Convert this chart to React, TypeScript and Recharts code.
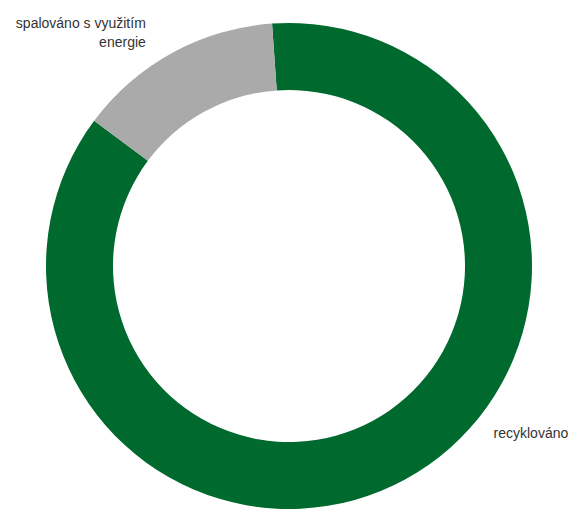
import { PieChart, Pie, Cell } from "recharts";

const categories = ["recyklováno", "spalováno s využitím energie"];
const values = [86.3, 13.7];
const colors = ["#006a2e", "#aaaaaa"];
// label text lines, split as in the reference
const labelLines = [["recyklováno"], ["spalováno s využitím", "energie"]];

const data = categories.map((name, i) => ({ name, value: values[i] }));

const RADIAN = Math.PI / 180;

// where each label sits around the ring: angle (deg) and distance past outer edge
const labelPlacement = [
  { angle: -40, gap: 24, anchor: "start" },
  { angle: 121, gap: 35, anchor: "end" },
];

function renderLabel(props: any) {
  const { cx, cy, outerRadius, index } = props;
  const p = labelPlacement[index];
  const r = outerRadius + p.gap;
  const x = cx + r * Math.cos(-p.angle * RADIAN);
  const y = cy + r * Math.sin(-p.angle * RADIAN);
  return (
    <text
      x={x}
      y={y}
      textAnchor={p.anchor}
      fill="#333"
      fontSize={14}
      fontFamily="'Liberation Sans', Arial, sans-serif"
    >
      {labelLines[index].map((line, i) => (
        <tspan key={i} x={x} y={y + i * 19}>
          {line}
        </tspan>
      ))}
    </text>
  );
}

export default function App() {
  return (
    <div style={{ position: "fixed", top: 0, left: 0, width: 573, height: 509, overflow: "hidden", background: "#fff" }}>
      <PieChart width={573} height={509} margin={{ top: 0, right: 0, bottom: 0, left: 0 }}>
        <Pie
          data={data}
          dataKey="value"
          nameKey="name"
          cx={289}
          cy={266}
          innerRadius={176}
          outerRadius={243}
          startAngle={94}
          endAngle={-266}
          stroke="none"
          label={renderLabel}
          labelLine={false}
          isAnimationActive={false}
        >
          {data.map((entry, index) => (
            <Cell key={`cell-${index}`} fill={colors[index]} />
          ))}
        </Pie>
      </PieChart>
    </div>
  );
}
